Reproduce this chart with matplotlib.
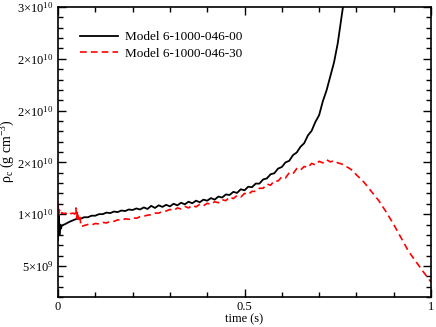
import matplotlib
matplotlib.use("Agg")
import matplotlib.pyplot as plt
from matplotlib.ticker import MultipleLocator, FixedLocator, FixedFormatter

plt.rcParams['font.family'] = ['Liberation Serif', 'DejaVu Serif']
plt.rcParams['mathtext.fontset'] = 'custom'
plt.rcParams['mathtext.rm'] = 'Liberation Serif'
plt.rcParams['mathtext.it'] = 'Liberation Serif:italic'

# central density in units of 1e10 g/cm^3
t_00 = [0.000, 0.002, 0.004, 0.006, 0.008, 0.01, 0.02, 0.03, 0.04, 0.05,
        0.06, 0.07, 0.08, 0.09, 0.10, 0.11, 0.12, 0.13, 0.14, 0.15,
        0.16, 0.17, 0.18, 0.19, 0.20, 0.21, 0.22, 0.23, 0.24, 0.25,
        0.26, 0.27, 0.28, 0.29, 0.30, 0.31, 0.32, 0.33, 0.34, 0.35,
        0.36, 0.37, 0.38, 0.39, 0.40, 0.41, 0.42, 0.43, 0.44, 0.45,
        0.46, 0.47, 0.48, 0.49, 0.50, 0.51, 0.52, 0.53, 0.54, 0.55,
        0.56, 0.57, 0.58, 0.59, 0.60, 0.61, 0.62, 0.63, 0.64, 0.65,
        0.66, 0.67, 0.68, 0.69, 0.70, 0.71, 0.72, 0.73, 0.74, 0.75,
        0.76, 0.77]
rho_00 = [0.75, 0.99, 0.80, 0.90, 0.86, 0.89, 0.905, 0.925, 0.94, 0.955,
          0.955, 0.97, 0.97, 0.985, 0.985, 1.00, 1.00, 1.015, 1.01, 1.025,
          1.02, 1.035, 1.03, 1.045, 1.04, 1.055, 1.045, 1.065, 1.05, 1.08,
          1.06, 1.085, 1.07, 1.09, 1.075, 1.10, 1.085, 1.11, 1.095, 1.12,
          1.105, 1.13, 1.115, 1.14, 1.13, 1.155, 1.14, 1.17, 1.16, 1.19,
          1.185, 1.215, 1.205, 1.24, 1.23, 1.265, 1.26, 1.295, 1.295, 1.335,
          1.345, 1.385, 1.395, 1.44, 1.455, 1.50, 1.515, 1.57, 1.595, 1.65,
          1.685, 1.76, 1.805, 1.89, 1.955, 2.09, 2.195, 2.33, 2.465, 2.65,
          2.90, 3.15]

t_30 = [0.000, 0.002, 0.004, 0.008, 0.01, 0.015, 0.02, 0.025, 0.03, 0.035,
        0.04, 0.045, 0.048, 0.050, 0.052, 0.055, 0.058, 0.062, 0.07, 0.08,
        0.09, 0.10, 0.11, 0.12, 0.13, 0.14, 0.15, 0.16, 0.17, 0.18,
        0.19, 0.20, 0.21, 0.22, 0.23, 0.24, 0.25, 0.26, 0.27, 0.28,
        0.29, 0.30, 0.31, 0.32, 0.33, 0.34, 0.35, 0.36, 0.37, 0.38,
        0.39, 0.40, 0.41, 0.42, 0.43, 0.44, 0.45, 0.46, 0.47, 0.48,
        0.49, 0.50, 0.51, 0.52, 0.53, 0.54, 0.55, 0.56, 0.57, 0.58,
        0.59, 0.60, 0.61, 0.62, 0.63, 0.64, 0.65, 0.66, 0.67, 0.68,
        0.69, 0.70, 0.71, 0.72, 0.73, 0.74, 0.75, 0.76, 0.77, 0.78,
        0.79, 0.80, 0.82, 0.84, 0.86, 0.88, 0.90, 0.92, 0.94, 0.96,
        0.98, 1.00]
rho_30 = [1.10, 0.99, 1.04, 1.00, 1.015, 1.005, 1.01, 1.00, 1.015, 1.005,
          1.01, 1.00, 1.06, 0.96, 1.03, 0.95, 0.99, 0.88, 0.89, 0.90,
          0.895, 0.91, 0.905, 0.92, 0.915, 0.93, 0.93, 0.945, 0.94, 0.955,
          0.95, 0.965, 0.96, 0.975, 0.98, 0.99, 0.995, 1.01, 1.01, 1.025,
          1.03, 1.045, 1.035, 1.06, 1.05, 1.075, 1.06, 1.085, 1.07, 1.095,
          1.08, 1.105, 1.095, 1.12, 1.11, 1.14, 1.13, 1.165, 1.15, 1.18,
          1.165, 1.20, 1.19, 1.22, 1.22, 1.25, 1.25, 1.29, 1.28, 1.32,
          1.32, 1.36, 1.35, 1.40, 1.39, 1.44, 1.425, 1.46, 1.45, 1.49,
          1.475, 1.51, 1.495, 1.525, 1.505, 1.515, 1.495, 1.485, 1.465, 1.445,
          1.42, 1.38, 1.31, 1.22, 1.13, 1.02, 0.90, 0.77, 0.64, 0.54,
          0.44, 0.345]

ytick_vals = [0.5, 1.0, 1.5, 2.0, 2.5, 3.0]
ytick_text = [r'5$\times$10$^{9}$', r'1$\times$10$^{10}$', r'2$\times$10$^{10}$',
              r'2$\times$10$^{10}$', r'2$\times$10$^{10}$', r'3$\times$10$^{10}$']

fig = plt.figure(figsize=(4.36, 3.27), dpi=100)
ax = fig.add_axes([58/436, 30/327, 373/436, 290/327])

ax.plot(t_00, [v * 1e10 for v in rho_00], color='black', lw=1.3, label='Model 6-1000-046-00')
ax.plot(t_30, [v * 1e10 for v in rho_30], color='red', lw=1.2, ls=(0, (4, 2.5)),
        label='Model 6-1000-046-30')

ax.set_xlim(0, 1)
ax.set_ylim(0.2e10, 3.0e10)
ax.xaxis.set_major_locator(FixedLocator([0, 0.5, 1]))
ax.xaxis.set_major_formatter(FixedFormatter(['0', '0.5', '1']))
ax.xaxis.set_minor_locator(MultipleLocator(0.1))
ax.yaxis.set_major_locator(FixedLocator([v * 1e10 for v in ytick_vals]))
ax.yaxis.set_major_formatter(FixedFormatter(ytick_text))
ax.yaxis.set_minor_locator(MultipleLocator(0.1e10))

ax.tick_params(which='both', direction='in', top=True, right=True, labelsize=9, width=1.0)
ax.tick_params(which='major', length=6, pad=3)
ax.tick_params(which='minor', length=3.5)
for s in ax.spines.values():
    s.set_linewidth(1.2)

ax.set_xlabel('time (s)', fontsize=9, labelpad=0)
ax.set_ylabel(r'ρ$_{\mathrm{c}}$ (g cm$^{-3}$)', fontsize=10)
ax.yaxis.set_label_coords(-0.11, 0.505)

ax.legend(loc='upper left', bbox_to_anchor=(0.045, 0.935), frameon=False, fontsize=9.5,
          handlelength=2.9, handletextpad=0.5, labelspacing=0.3, borderaxespad=0)

fig.savefig('out.png', dpi=100)
